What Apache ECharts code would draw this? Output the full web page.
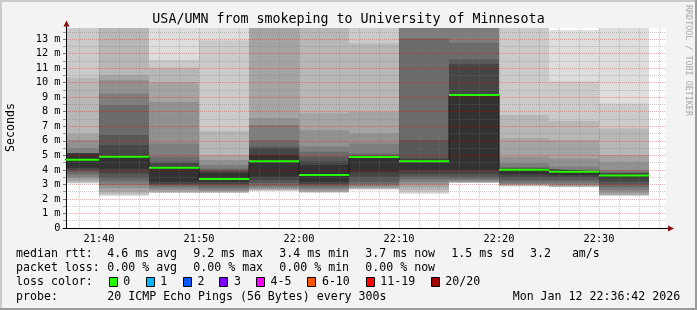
<!DOCTYPE html>
<html>
<head>
<meta charset="utf-8">
<script src="https://cdn.jsdelivr.net/npm/echarts@6/dist/echarts.min.js"></script>
<style>
html,body{margin:0;padding:0;background:#f3f3f3;}
#chart{width:697px;height:310px;}
</style>
</head>
<body>
<div id="chart"></div>
<script>
// ---------------- data ----------------
const titleText = 'USA/UMN from smokeping to University of Minnesota';
const yAxisTitle = 'Seconds';
const watermark = 'RRDTOOL / TOBI OETIKER';

const axisStart = '21:36:42';
const axisEnd = '22:36:42';
const yMaxMs = 13.76;

const slotStart = ['21:35','21:40','21:45','21:50','21:55','22:00','22:05','22:10','22:15','22:20','22:25','22:30'];
const slotMinutes = 5;

// median rtt per 5-minute step (ms)
const medianMs = [4.70, 4.90, 4.15, 3.37, 4.60, 3.65, 4.88, 4.60, 9.15, 4.00, 3.87, 3.62];

// 20 sorted ping rtts per step (ms)
const pingsMs = [
  [3.07,3.10,3.15,3.23,3.40,3.53,3.70,3.87,4.00,4.15, 5.12,5.13,5.13,5.14,5.48,6.05,6.46,10.34,14.5,16.0],
  [2.22,2.25,2.35,2.50,2.75,2.96,3.20,3.42,3.75,4.06, 5.00,5.70,6.40,8.46,9.26,10.18,10.52,14.2,15.0,16.0],
  [2.40,2.42,2.45,2.50,2.62,2.73,2.85,2.96,3.05,3.19, 4.22,4.45,4.56,4.91,5.82,8.69,10.02,11.03,11.55,15.0],
  [2.40,2.42,2.45,2.50,2.55,2.62,2.75,2.90,3.05,3.19, 3.80,3.90,4.00,4.10,4.33,4.67,5.00,6.67,12.90,15.0],
  [2.57,2.58,2.60,2.65,2.70,2.80,2.90,3.10,3.30,3.53, 5.02,5.50,5.60,6.05,7.08,7.56,14.0,14.5,15.0,16.0],
  [2.43,2.45,2.47,2.50,2.60,2.70,2.80,2.96,3.05,3.19, 4.33,4.60,4.90,5.25,5.60,6.74,7.90,14.0,15.0,16.0],
  [2.65,2.67,2.70,2.73,2.80,2.90,3.00,3.19,3.53,3.87, 4.93,4.96,5.02,5.13,5.82,6.50,8.00,12.70,14.5,16.0],
  [2.35,2.45,2.60,2.80,3.00,3.19,3.35,3.53,3.70,3.99, 4.72,4.79,6.05,13.04,14.0,14.5,15.0,15.5,16.0,17.0],
  [3.10,3.11,3.13,3.15,3.19,3.25,3.35,3.50,3.69,3.99, 9.20,11.26,11.60,12.74,14.0,14.5,15.0,15.5,16.0,17.0],
  [2.85,2.87,2.90,2.95,3.00,3.05,3.15,3.30,3.50,3.69, 4.06,4.09,4.12,4.20,4.45,4.90,6.17,7.77,14.2,15.0],
  [2.80,2.82,2.84,2.87,2.92,3.00,3.15,3.30,3.50,3.65, 3.90,3.92,3.94,3.96,4.22,4.79,6.05,7.36,10.10,13.6],
  [2.22,2.23,2.25,2.30,2.45,2.60,2.80,3.00,3.20,3.42, 3.70,3.75,3.80,3.85,3.99,4.56,5.02,6.85,8.57,15.0]
];

const xTickLabels = ['21:40','21:50','22:00','22:10','22:20','22:30'];
const yTickLabels = ['0','1 m','2 m','3 m','4 m','5 m','6 m','7 m','8 m','9 m','10 m','11 m','12 m','13 m'];

const statLabels = ['median rtt:','packet loss:','loss color:','probe:'];
const rttStats = ['4.6 ms avg','9.2 ms max','3.4 ms min','3.7 ms now','1.5 ms sd','3.2   am/s'];
const lossStats = ['0.00 % avg','0.00 % max','0.00 % min','0.00 % now'];
const lossNames = ['0','1','2','3','4-5','6-10','11-19','20/20'];
const lossColors = ['#26ff00','#00b8ff','#0059ff','#7e00ff','#ff00ff','#ff5500','#ff0000','#a10000'];
const probeText = '20 ICMP Echo Pings (56 Bytes) every 300s';
const dateText = 'Mon Jan 12 22:36:42 2026';

// ---------------- helpers ----------------
function toMin(s) {
  const p = s.split(':').map(Number);
  return (p[0] - 21) * 60 + p[1] + (p[2] || 0) / 60;
}
const xMin = toMin(axisStart), xMax = toMin(axisEnd);
const xMajor = xTickLabels.map(toMin);
const xMinor = [];
for (let m = Math.ceil(xMin / 2) * 2; m <= xMax; m += 2) if (m % 10 !== 0) xMinor.push(m);
const yMajor = yTickLabels.map(s => parseFloat(s));
const yMinor = yMajor.map(v => v + 0.5).filter(v => v < yMaxMs);

function fmtTime(v) {
  const h = 21 + Math.floor(v / 60), m = Math.round(v % 60);
  return h + ':' + (m < 10 ? '0' : '') + m;
}

const smokeData = [];
pingsMs.forEach((p, i) => {
  const t0 = toMin(slotStart[i]), t1 = t0 + slotMinutes;
  for (let k = 1; k <= 10; k++) smokeData.push([t0, t1, p[k - 1], p[20 - k], k]);
});
const medianLine = slotStart.map((s, i) => [toMin(s), medianMs[i]]);
medianLine.push([toMin(slotStart[slotStart.length - 1]) + slotMinutes, medianMs[medianMs.length - 1]]);
const medianSeg = slotStart.map((s, i) => [toMin(s), toMin(s) + slotMinutes, medianMs[i]]);

const MONO = '"DejaVu Sans Mono", monospace';
const chart = echarts.init(document.getElementById('chart'), null, {renderer: 'canvas'});

function txt(x, y, text, size, extra) {
  return Object.assign({
    type: 'text', x: x, y: y, z: 10, silent: true,
    style: {text: text, font: size + 'px ' + MONO, fill: '#000',
            align: 'left', verticalAlign: 'middle', textAlign: 'left', textVerticalAlign: 'middle'}
  }, extra || {});
}

const graphics = [];
// frame
graphics.push({type:'rect', shape:{x:0,y:0,width:697,height:2}, style:{fill:'#cbcbcb'}, z:10, silent:true});
graphics.push({type:'rect', shape:{x:0,y:0,width:2,height:310}, style:{fill:'#cbcbcb'}, z:10, silent:true});
graphics.push({type:'rect', shape:{x:695,y:0,width:2,height:310}, style:{fill:'#9a9a9a'}, z:10, silent:true});
graphics.push({type:'rect', shape:{x:0,y:308,width:697,height:2}, style:{fill:'#9a9a9a'}, z:10, silent:true});
// title
graphics.push(txt(348.5, 19.3, titleText, 13.3, {style:{text:titleText, font:'13.3px '+MONO, fill:'#000', align:'center', verticalAlign:'middle', textAlign:'center', textVerticalAlign:'middle'}}));
// y axis title
graphics.push({type:'text', x:11, y:127.5, rotation:Math.PI/2, z:10, silent:true,
  style:{text:yAxisTitle, font:'11.6px '+MONO, fill:'#000', align:'center', verticalAlign:'middle', textAlign:'center', textVerticalAlign:'middle'}});
// watermark
graphics.push({type:'text', x:688, y:5, rotation:-Math.PI/2, z:10, silent:true,
  style:{text:watermark, font:'8.4px '+MONO, fill:'#a8a8a8', align:'left', verticalAlign:'middle', textAlign:'left', textVerticalAlign:'middle'}});
// axis arrows / extensions
graphics.push({type:'line', shape:{x1:66.5,y1:26,x2:66.5,y2:28}, style:{stroke:'#000',lineWidth:1}, z:10, silent:true});
graphics.push({type:'polygon', shape:{points:[[66.5,20.5],[63.5,26.5],[69.5,26.5]]}, style:{fill:'#8b1010'}, z:10, silent:true});
graphics.push({type:'line', shape:{x1:62.5,y1:228.5,x2:669,y2:228.5}, style:{stroke:'#000',lineWidth:1}, z:10, silent:true});
graphics.push({type:'polygon', shape:{points:[[674,228.5],[668,225.5],[668,231.5]]}, style:{fill:'#8b1010'}, z:10, silent:true});

// legend
const rowY = [254.2, 268.3, 282.1, 296.5];
const colX = [107.3, 193.3, 279.3, 365.3, 451.3, 530];
statLabels.forEach((s, i) => graphics.push(txt(16, rowY[i], s, 11.6)));
rttStats.forEach((s, i) => graphics.push(txt(colX[i], rowY[0], s, 11.6)));
lossStats.forEach((s, i) => graphics.push(txt(colX[i], rowY[1], s, 11.6)));
const boxX = [108.7, 145.7, 183, 219.3, 256, 307.3, 365.7, 430.7];
lossNames.forEach((s, i) => {
  graphics.push({type:'rect', shape:{x:Math.round(boxX[i])+0.5, y:277.5, width:8, height:9},
    style:{fill:lossColors[i], stroke:'#000', lineWidth:1}, z:10, silent:true});
  graphics.push(txt(boxX[i] + 14.6, rowY[2], s, 11.6));
});
graphics.push(txt(107.3, rowY[3], probeText, 11.6));
graphics.push(txt(512.7, rowY[3], dateText, 11.6));

const redGrid = {color:'rgba(200,0,0,0.3)', width:1, type:[1,1]};
const grayGrid = {color:'rgba(120,120,120,0.38)', width:1, type:[1,1]};

const option = {
  animation: false,
  backgroundColor: '#f3f3f3',
  grid: {left:66, top:28, width:600, height:200, show:true, backgroundColor:'#ffffff', borderWidth:0},
  xAxis: [
    {type:'value', min:xMin, max:xMax, z:3,
     axisLine:{show:false, onZero:false},
     axisTick:{show:false, customValues:xMajor},
     axisLabel:{customValues:xMajor, formatter:fmtTime, margin:6, color:'#000', fontFamily:MONO, fontSize:10.3},
     splitLine:{show:true, lineStyle:redGrid}},
    {type:'value', min:xMin, max:xMax, z:3, position:'bottom',
     axisLine:{show:false, onZero:false},
     axisTick:{show:false, customValues:xMinor},
     axisLabel:{show:false, customValues:xMinor},
     splitLine:{show:true, lineStyle:grayGrid}}
  ],
  yAxis: [
    {type:'value', min:0, max:yMaxMs, z:3,
     axisLine:{show:true, onZero:false, lineStyle:{color:'#000', width:1}},
     axisTick:{show:true, length:3, customValues:yMajor, lineStyle:{color:'#777'}},
     axisLabel:{customValues:yMajor, formatter:(v) => yTickLabels[yMajor.indexOf(v)] || '', margin:5.5, color:'#000', fontFamily:MONO, fontSize:10.3},
     splitLine:{show:true, lineStyle:redGrid}},
    {type:'value', min:0, max:yMaxMs, z:3, position:'left',
     axisLine:{show:false, onZero:false},
     axisTick:{show:true, length:3, customValues:yMinor, lineStyle:{color:'#999'}},
     axisLabel:{show:false, customValues:yMinor},
     splitLine:{show:true, lineStyle:grayGrid}}
  ],
  graphic: {elements: graphics},
  series: [
    {type:'custom', name:'smoke', z:1, xAxisIndex:0, yAxisIndex:0, silent:true,
     data: smokeData, encode:{x:[0,1], y:[2,3]},
     renderItem: function (params, api) {
       const xa = Math.max(api.value(0), xMin), xb = Math.min(api.value(1), xMax);
       const lo = Math.min(api.value(2), yMaxMs), hi = Math.min(api.value(3), yMaxMs);
       const a = api.coord([xa, lo]), b = api.coord([xb, hi]);
       const k = api.value(4);
       const g = Math.floor(190 / 10 * (10 - k)) + 50;
       return {type:'rect', shape:{x:a[0], y:b[1], width:b[0]-a[0], height:a[1]-b[1]},
               style:{fill:'rgb(' + g + ',' + g + ',' + g + ')'}};
     }},
    {type:'line', name:'median', z:6, xAxisIndex:0, yAxisIndex:0, step:'end', symbol:'none', silent:true,
     data: medianLine, lineStyle:{color:'#1a1a1a', width:1}, clip:true},
    {type:'custom', name:'loss0', z:7, xAxisIndex:0, yAxisIndex:0, silent:true,
     data: medianSeg, encode:{x:[0,1], y:2},
     renderItem: function (params, api) {
       const xa = Math.max(api.value(0), xMin), xb = api.value(1);
       const a = api.coord([xa, api.value(2)]), b = api.coord([xb, api.value(2)]);
       return {type:'line', shape:{x1:a[0], y1:a[1], x2:b[0], y2:b[1]},
               style:{stroke:lossColors[0], lineWidth:2}};
     }}
  ]
};
chart.setOption(option);
</script>
</body>
</html>
